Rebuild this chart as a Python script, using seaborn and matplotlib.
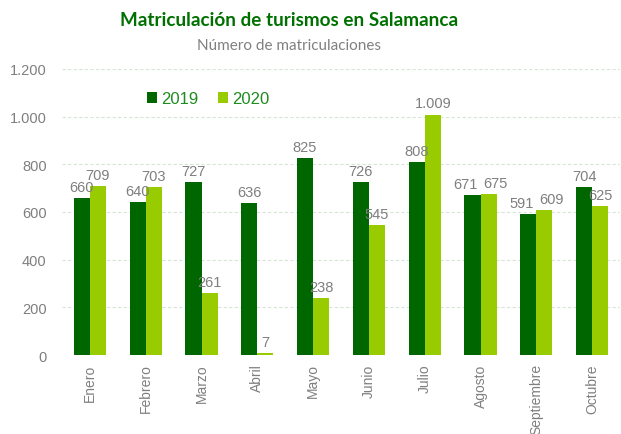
import matplotlib
matplotlib.use("Agg")
import matplotlib.pyplot as plt
import seaborn as sns
import pandas as pd
from matplotlib.ticker import FuncFormatter

months = ["Enero", "Febrero", "Marzo", "Abril", "Mayo", "Junio", "Julio",
          "Agosto", "Septiembre", "Octubre"]
v2019 = [660, 640, 727, 636, 825, 726, 808, 671, 591, 704]
v2020 = [709, 703, 261, 7, 238, 545, 1009, 675, 609, 625]
years = ["2019", "2020"]
colors = ["#006600", "#99cc00"]

df = pd.DataFrame({
    "mes": months * 2,
    "valor": v2019 + v2020,
    "año": [years[0]] * len(months) + [years[1]] * len(months),
})

sns.set_style("white")
plt.rcParams["font.family"] = ["Liberation Sans", "DejaVu Sans"]

fig = plt.figure(figsize=(6.21, 4.35), dpi=100)
ax = fig.add_axes([62/621, 1 - 356/435, (620-62)/621, (356-70)/435])

sns.barplot(data=df, x="mes", y="valor", hue="año", palette=colors,
            width=0.58, ax=ax, legend=True, saturation=1, linewidth=0)

def fmt(v, pos=None):
    return f"{int(v):,}".replace(",", ".")

c0, c1 = ax.containers[0], ax.containers[1]
for b0, b1 in zip(c0, c1):
    h0, h1 = b0.get_height(), b1.get_height()
    close = abs(h0 - h1) < 40
    for bar, h, dx in ((b0, h0, -5 if close else 0), (b1, h1, 5 if close else 0)):
        ax.annotate(fmt(h), (bar.get_x() + bar.get_width() / 2, h),
                    xytext=(dx, 3), textcoords="offset points",
                    ha="center", va="bottom", fontsize=10.5, color="#7f7f7f")

ax.set_ylim(0, 1200)
ax.set_xlim(-0.5, 9.5)
ax.set_yticks(range(0, 1201, 200))
ax.yaxis.set_major_formatter(FuncFormatter(fmt))
ax.grid(axis="y", color="#d5e6d5", linestyle=(0, (3, 2)), linewidth=0.8)
ax.set_axisbelow(True)
for s in ax.spines.values():
    s.set_visible(False)
ax.tick_params(axis="y", colors="#7f7f7f", labelsize=10.5, length=0, pad=11)
ax.tick_params(axis="x", colors="#7f7f7f", labelsize=10, length=0, rotation=90, pad=6)
ax.set_xlabel("")
ax.set_ylabel("")

leg = ax.legend(loc="upper left", bbox_to_anchor=(0.125, 0.975), ncol=2, frameon=False,
                fontsize=12, handlelength=0.6, handleheight=0.6, handletextpad=0.25,
                columnspacing=1.2)
for t in leg.get_texts():
    t.set_color("#1e8c1e")

fig.text(289/621, 1 - 20/435, "Matriculación de turismos en Salamanca", ha="center", va="center",
         fontsize=13.6, fontweight="bold", color="#007000", family=["Lato", "DejaVu Sans"])
fig.text(289/621, 1 - 46/435, "Número de matriculaciones", ha="center", va="center",
         fontsize=11, color="#808080", family=["Lato", "DejaVu Sans"])

fig.savefig("out.png", dpi=100)
